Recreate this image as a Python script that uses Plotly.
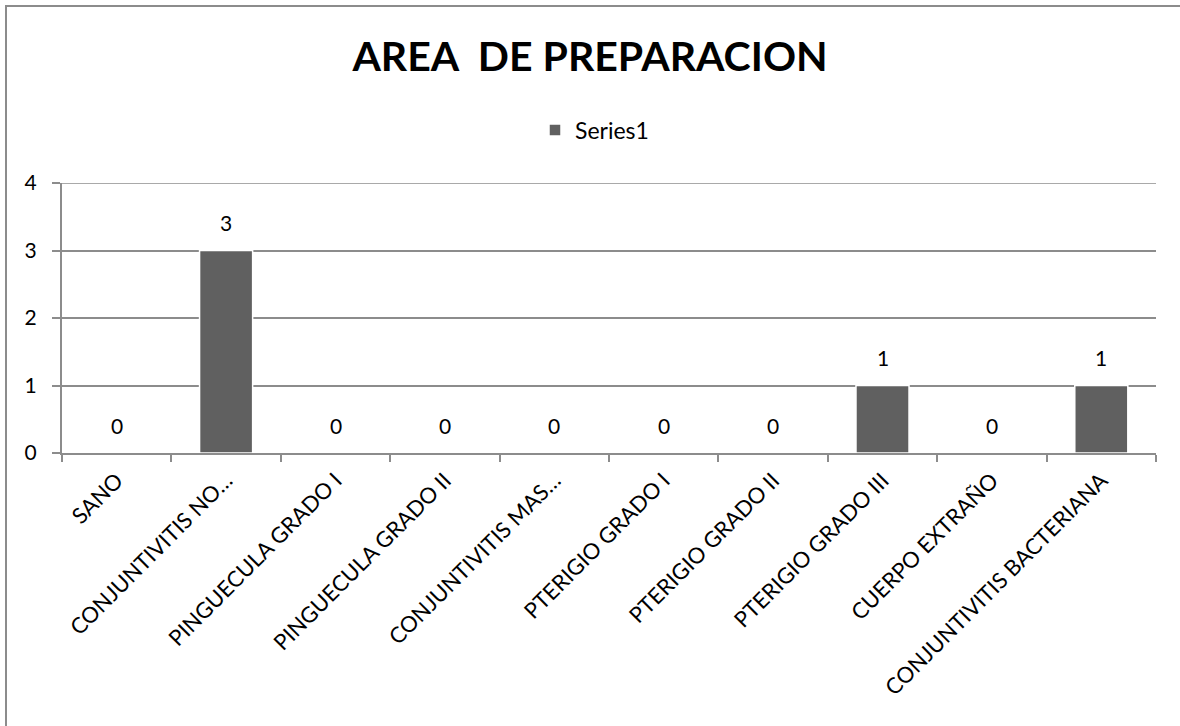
import plotly.graph_objects as go

# Chart data
categories = [
    "SANO",
    "CONJUNTIVITIS NO…",
    "PINGUECULA GRADO I",
    "PINGUECULA GRADO II",
    "CONJUNTIVITIS MAS…",
    "PTERIGIO GRADO I",
    "PTERIGIO GRADO II",
    "PTERIGIO GRADO III",
    "CUERPO EXTRAÑO",
    "CONJUNTIVITIS BACTERIANA",
]
values = [0, 3, 0, 0, 0, 0, 0, 1, 0, 1]
series_name = "Series1"
title_text = "AREA  DE PREPARACION"
y_ticks = [0, 1, 2, 3, 4]

W, H = 1180, 726
M_L, M_R, M_T, M_B = 62, 24, 183, 273
plot_w = W - M_L - M_R
plot_h = H - M_T - M_B

FONT = "Lato, Calibri, Carlito, sans-serif"
GRID = "#8c8c8c"
BAR = "#606060"


def px_to_paper_x(px):
    return (px - M_L) / plot_w


def px_to_paper_y(py):
    return (H - M_B - py) / plot_h


fig = go.Figure()

fig.add_trace(go.Bar(
    x=categories,
    y=values,
    name=series_name,
    marker=dict(color=BAR, line=dict(color="white", width=1.5)),
    showlegend=True,
))

# value labels above each bar end
for cat, val in zip(categories, values):
    fig.add_annotation(
        x=cat, y=val, text=str(val), showarrow=False,
        yshift=28, yanchor="middle",
        font=dict(family=FONT, size=21, color="#000000"),
    )

# gridline along the top of the value range
fig.add_shape(
    type="line", xref="paper", yref="y",
    x0=0, x1=1, y0=y_ticks[-1], y1=y_ticks[-1],
    line=dict(color=GRID, width=1.6), layer="below",
)

# outer chart frame
fig.add_shape(
    type="rect", xref="paper", yref="paper",
    x0=px_to_paper_x(6), x1=px_to_paper_x(1200),
    y0=px_to_paper_y(760), y1=px_to_paper_y(6),
    line=dict(color="#8c8c8c", width=2), fillcolor="rgba(0,0,0,0)",
    layer="below",
)

fig.update_layout(
    width=W, height=H,
    margin=dict(l=M_L, r=M_R, t=M_T, b=M_B),
    paper_bgcolor="white",
    plot_bgcolor="white",
    font=dict(family=FONT, size=18, color="#000000"),
    title=dict(
        text=title_text,
        font=dict(family=FONT, size=41, color="#000000", weight="bold"),
        x=0.5, xanchor="center", xref="container",
        y=1 - 57 / H, yanchor="middle", yref="container",
    ),
    legend=dict(
        orientation="h",
        x=px_to_paper_x(535), xanchor="left",
        y=px_to_paper_y(130), yanchor="middle",
        font=dict(family=FONT, size=23, color="#000000"),
        bgcolor="rgba(0,0,0,0)",
        itemwidth=30,
    ),
    bargap=0.515,
    xaxis=dict(
        type="category",
        tickangle=-45,
        tickson="boundaries",
        ticks="outside",
        ticklen=7,
        tickcolor=GRID,
        tickwidth=1.5,
        showline=True,
        linecolor=GRID,
        linewidth=2,
        showgrid=False,
        ticklabelstandoff=4,
        tickfont=dict(family=FONT, size=22, color="#000000"),
    ),
    yaxis=dict(
        range=[0, 4],
        tickvals=y_ticks,
        ticks="outside",
        ticklen=8,
        tickcolor=GRID,
        tickwidth=1.5,
        showline=True,
        linecolor=GRID,
        linewidth=2,
        showgrid=True,
        gridcolor=GRID,
        gridwidth=1.6,
        zeroline=False,
        ticklabelstandoff=11,
        tickfont=dict(family=FONT, size=21, color="#000000"),
    ),
)

fig.write_html("out.html")
